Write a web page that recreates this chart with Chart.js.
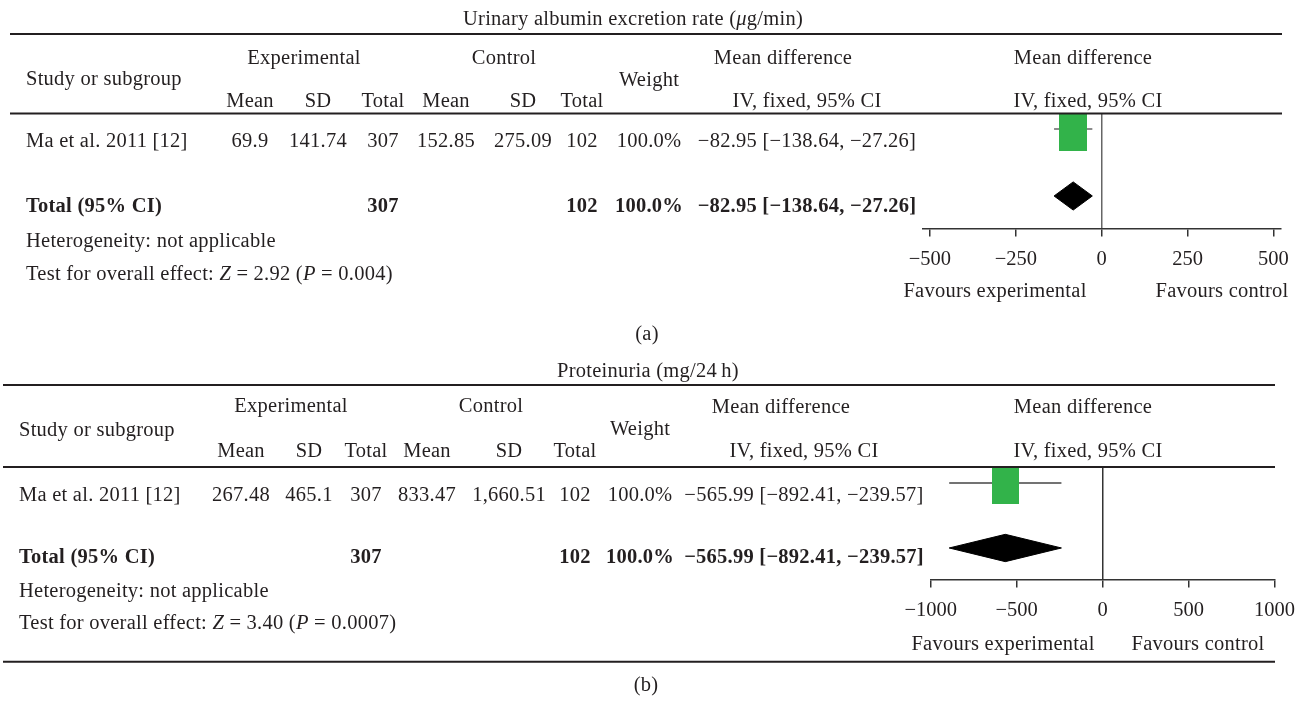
<!DOCTYPE html>
<html>
<head>
<meta charset="utf-8">
<title>Forest plots: urinary albumin excretion and proteinuria</title>
<script src="https://cdn.jsdelivr.net/npm/chart.js@4.4.1/dist/chart.umd.min.js"></script>
<style>
  html, body { margin: 0; padding: 0; background: #ffffff; }
  #wrap { position: relative; width: 1306px; height: 701px; overflow: hidden; }
  canvas { position: absolute; left: 0; }
</style>
</head>
<body>
<div id="wrap">
  <canvas id="panelA" width="1306" height="350" style="top:0px"></canvas>
  <canvas id="panelB" width="1306" height="351" style="top:350px"></canvas>
</div>
<script>
// ---- data (one entry per outcome panel) ----
const outcomeTitles = ['Urinary albumin excretion rate (\u03bcg/min)', 'Proteinuria (mg/24\u2009h)'];
const panelTags = ['(a)', '(b)'];
const studyLabels = ['Ma et al. 2011 [12]', 'Ma et al. 2011 [12]'];
const expMean = [69.9, 267.48];
const expSD = [141.74, 465.1];
const expTotal = [307, 307];
const ctlMean = [152.85, 833.47];
const ctlSD = [275.09, 1660.51];
const ctlTotal = [102, 102];
const studyWeight = [100.0, 100.0];
const studyMD = [-82.95, -565.99];
const studyLower = [-138.64, -892.41];
const studyUpper = [-27.26, -239.57];
const pooledMD = [-82.95, -565.99];
const pooledLower = [-138.64, -892.41];
const pooledUpper = [-27.26, -239.57];
const pooledWeight = [100.0, 100.0];
const heterogeneityText = ['Heterogeneity: not applicable', 'Heterogeneity: not applicable'];
const zStat = ['2.92', '3.40'];
const pValue = ['0.004', '0.0007'];
const axisTicks = [[-500, -250, 0, 250, 500], [-1000, -500, 0, 500, 1000]];
const axisRange = [[-521, 521], [-1000, 1000]];
const favourLabels = ['Favours experimental', 'Favours control'];

// ---- appearance ----
const FONT = '"Liberation Serif", "Times New Roman", serif';
const FS = 20.5;
const TRACKING = '0.25px';
const INK = '#231f20';
const GREEN = '#32b34a';
const DIAMOND_HALF = 0.21; // half height of the pooled diamond, in row units

// page geometry of each panel (canvas pixels)
const layouts = [
  { canvas: 'panelA', H: 350, titleX: 633, titleY: 25, topRule: 34, ruleX0: 10, ruleX1: 1282,
    grpY: 64.3, mdY: 64, studyY: 85, weightY: 86, subY: 107, headRule: 113.5,
    rowY: 147.3, totY: 211.7, hetY: 246.7, testY: 280, favY: 297, tagX: 647, tagY: 340, bottomRule: null,
    leftX: 26, exp: 304, ctl: 504, em: 250, esd: 318, etot: 383, cm: 446, csd: 523, ctot: 582,
    w: 649, ci: 807, mdHead: 783, plotHead: 1083, plotSub: 1088, favL: 995, favR: 1222,
    plotL: 922.7, plotR: 1280.7, axisY: 228.5, yMin: 0.77, yMax: 2.485, sq: [28, 44],
    whisker: '#666666', zeroLine: '#666666' },
  { canvas: 'panelB', H: 351, titleX: 648, titleY: 26.7, topRule: 35, ruleX0: 3, ruleX1: 1275,
    grpY: 61.7, mdY: 62.7, studyY: 86, weightY: 85, subY: 106.7, headRule: 117,
    rowY: 150.7, totY: 212.7, hetY: 247, testY: 279.3, favY: 300, tagX: 646, tagY: 341, bottomRule: 311.7,
    leftX: 19, exp: 291, ctl: 491, em: 241, esd: 309, etot: 366, cm: 427, csd: 509, ctot: 575,
    w: 640, ci: 804, mdHead: 781, plotHead: 1083, plotSub: 1088, favL: 1003, favR: 1198,
    plotL: 930.7, plotR: 1277.7, axisY: 229.5, yMin: 0.754, yMax: 2.485, sq: [27, 42],
    whisker: '#444444', zeroLine: '#333333' }
];

// ---- formatting helpers ----
const fmtStat = v => v.toLocaleString('en-US', { maximumFractionDigits: 2 });
const signed = v => (v < 0 ? '\u2212' : '') + Math.abs(v).toFixed(2);
const ciText = (m, lo, hi) => `${signed(m)} [${signed(lo)}, ${signed(hi)}]`;
const tickText = v => (v < 0 ? '\u2212' + Math.abs(v) : String(v));

function setFont(ctx, bold, italic) {
  ctx.font = `${italic ? 'italic ' : ''}${bold ? 'bold ' : ''}${FS}px ${FONT}`;
  ctx.letterSpacing = TRACKING;
}
function text(ctx, s, x, y, align = 'center', bold = false) {
  setFont(ctx, bold, false);
  ctx.fillStyle = INK;
  ctx.textAlign = align;
  ctx.textBaseline = 'alphabetic';
  ctx.fillText(s, x, y);
}
function richText(ctx, parts, x, y, align) {
  let total = 0;
  parts.forEach(([s, it]) => { setFont(ctx, false, it); total += ctx.measureText(s).width; });
  let cx = align === 'center' ? x - total / 2 : x;
  ctx.fillStyle = INK;
  ctx.textAlign = 'left';
  ctx.textBaseline = 'alphabetic';
  parts.forEach(([s, it]) => { setFont(ctx, false, it); ctx.fillText(s, cx, y); cx += ctx.measureText(s).width; });
}
function hRule(ctx, x0, x1, y) {
  ctx.save();
  ctx.strokeStyle = INK;
  ctx.lineWidth = 2;
  ctx.beginPath();
  ctx.moveTo(x0, y);
  ctx.lineTo(x1, y);
  ctx.stroke();
  ctx.restore();
}

// table text, rules and captions around the plot area
function tablePlugin(i) {
  const L = layouts[i];
  return {
    id: 'forestTable' + i,
    afterDraw(chart) {
      const ctx = chart.ctx;
      ctx.save();
      // outcome title (micro sign set in italic)
      const tParts = outcomeTitles[i].split('\u03bc');
      const titleParts = [];
      tParts.forEach((s, k) => {
        if (k > 0) titleParts.push(['\u03bc', true]);
        titleParts.push([s, false]);
      });
      richText(ctx, titleParts, L.titleX, L.titleY, 'center');
      hRule(ctx, L.ruleX0, L.ruleX1, L.topRule);

      // column headers
      text(ctx, 'Experimental', L.exp, L.grpY);
      text(ctx, 'Control', L.ctl, L.grpY);
      text(ctx, 'Mean difference', L.mdHead, L.mdY);
      text(ctx, 'Mean difference', L.plotHead, L.mdY);
      text(ctx, 'Study or subgroup', L.leftX, L.studyY, 'left');
      text(ctx, 'Weight', L.w, L.weightY);
      text(ctx, 'Mean', L.em, L.subY);
      text(ctx, 'SD', L.esd, L.subY);
      text(ctx, 'Total', L.etot, L.subY);
      text(ctx, 'Mean', L.cm, L.subY);
      text(ctx, 'SD', L.csd, L.subY);
      text(ctx, 'Total', L.ctot, L.subY);
      text(ctx, 'IV, fixed, 95% CI', L.ci, L.subY);
      text(ctx, 'IV, fixed, 95% CI', L.plotSub, L.subY);
      hRule(ctx, L.ruleX0, L.ruleX1, L.headRule);

      // study row
      text(ctx, studyLabels[i], L.leftX, L.rowY, 'left');
      text(ctx, fmtStat(expMean[i]), L.em, L.rowY);
      text(ctx, fmtStat(expSD[i]), L.esd, L.rowY);
      text(ctx, String(expTotal[i]), L.etot, L.rowY);
      text(ctx, fmtStat(ctlMean[i]), L.cm, L.rowY);
      text(ctx, fmtStat(ctlSD[i]), L.csd, L.rowY);
      text(ctx, String(ctlTotal[i]), L.ctot, L.rowY);
      text(ctx, studyWeight[i].toFixed(1) + '%', L.w, L.rowY);
      text(ctx, ciText(studyMD[i], studyLower[i], studyUpper[i]), L.ci, L.rowY);

      // pooled row
      text(ctx, 'Total (95% CI)', L.leftX, L.totY, 'left', true);
      text(ctx, String(expTotal[i]), L.etot, L.totY, 'center', true);
      text(ctx, String(ctlTotal[i]), L.ctot, L.totY, 'center', true);
      text(ctx, pooledWeight[i].toFixed(1) + '%', L.w, L.totY, 'center', true);
      text(ctx, ciText(pooledMD[i], pooledLower[i], pooledUpper[i]), L.ci, L.totY, 'center', true);

      // footnotes
      text(ctx, heterogeneityText[i], L.leftX, L.hetY, 'left');
      richText(ctx, [['Test for overall effect: ', false], ['Z', true], [' = ' + zStat[i] + ' (', false],
                     ['P', true], [' = ' + pValue[i] + ')', false]], L.leftX, L.testY, 'left');

      // axis captions
      text(ctx, favourLabels[0], L.favL, L.favY);
      text(ctx, favourLabels[1], L.favR, L.favY);

      if (L.bottomRule !== null) hRule(ctx, L.ruleX0, L.ruleX1, L.bottomRule);
      text(ctx, panelTags[i], L.tagX, L.tagY);
      ctx.restore();
    }
  };
}

function buildPanel(i) {
  const L = layouts[i];
  const studyRow = 1, totalRow = 2;

  // weighted study marker
  const box = document.createElement('canvas');
  box.width = L.sq[0];
  box.height = L.sq[1];
  const g = box.getContext('2d');
  g.fillStyle = GREEN;
  g.fillRect(0, 0, box.width, box.height);

  const ticks = axisTicks[i];
  new Chart(document.getElementById(L.canvas), {
    type: 'scatter',
    data: {
      datasets: [
        { // study point estimate
          data: [{ x: studyMD[i], y: studyRow }],
          pointStyle: box, pointRadius: 4, pointHoverRadius: 4,
          clip: { left: false, top: 0, right: false, bottom: false }
        },
        { // study confidence interval
          type: 'line',
          data: [{ x: studyLower[i], y: studyRow }, { x: studyUpper[i], y: studyRow }],
          borderColor: L.whisker, borderWidth: 1.5, pointRadius: 0, fill: false
        },
        { // pooled estimate diamond
          type: 'line',
          data: [
            { x: pooledLower[i], y: totalRow },
            { x: pooledMD[i], y: totalRow - DIAMOND_HALF },
            { x: pooledUpper[i], y: totalRow },
            { x: pooledMD[i], y: totalRow + DIAMOND_HALF },
            { x: pooledLower[i], y: totalRow }
          ],
          borderColor: '#000000', backgroundColor: '#000000', borderWidth: 1,
          pointRadius: 0, tension: 0, fill: 'shape', borderJoinStyle: 'miter'
        }
      ]
    },
    options: {
      responsive: false,
      animation: false,
      events: [],
      layout: {
        padding: {
          left: L.plotL,
          right: 1306 - L.plotR,
          top: L.headRule,
          bottom: L.H - L.axisY - 50
        }
      },
      plugins: { legend: { display: false }, tooltip: { enabled: false } },
      scales: {
        x: {
          type: 'linear',
          position: 'bottom',
          min: axisRange[i][0],
          max: axisRange[i][1],
          afterBuildTicks: s => { s.ticks = ticks.map(v => ({ value: v })); },
          afterFit: s => { s.height = 50; },
          grid: {
            drawOnChartArea: true,
            drawTicks: true,
            tickLength: 8,
            lineWidth: 1.5,
            tickWidth: 1.5,
            tickColor: '#333333',
            color: c => (c.tick && c.tick.value === 0 ? L.zeroLine : 'rgba(0,0,0,0)')
          },
          border: { display: true, color: '#333333', width: 1.5 },
          ticks: {
            autoSkip: false,
            maxRotation: 0,
            padding: 11,
            color: INK,
            font: { family: FONT, size: FS },
            callback: v => tickText(v)
          }
        },
        y: {
          type: 'linear',
          display: false,
          reverse: true,
          min: L.yMin,
          max: L.yMax
        }
      }
    },
    plugins: [tablePlugin(i)]
  });
}

buildPanel(0);
buildPanel(1);
</script>
</body>
</html>
